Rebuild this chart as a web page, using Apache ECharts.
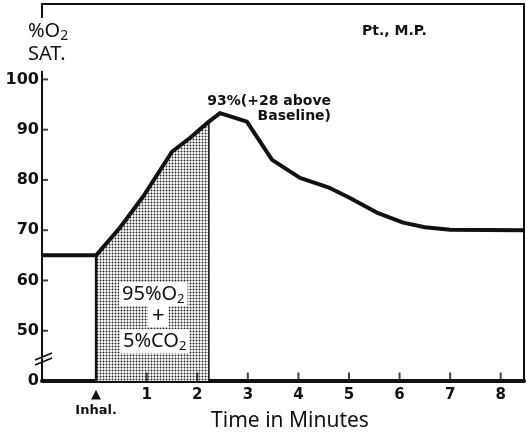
<!DOCTYPE html>
<html>
<head>
<meta charset="utf-8">
<script src="https://cdn.jsdelivr.net/npm/echarts@6/dist/echarts.min.js"></script>
<style>
  html, body { margin: 0; padding: 0; background: #fff; }
  #chart { width: 527px; height: 436px; }
</style>
</head>
<body>
<div id="chart"></div>
<script>
// time in minutes (0 = start of inhalation), % O2 saturation
const time = [-1.07, 0, 0.47, 0.93, 1.5, 1.86, 2.23, 2.45, 2.98, 3.48, 4.03, 4.62, 5.0, 5.55, 6.07, 6.5, 7.0, 8.46];
const sat = [65, 65, 70.5, 76.7, 85.6, 88.4, 91.6, 93.3, 91.6, 84.0, 80.4, 78.4, 76.5, 73.5, 71.5, 70.6, 70.1, 70];
const shadeEnd = 2.23; // end of gas inhalation
const xTicks = [0, 1, 2, 3, 4, 5, 6, 7, 8];
const yTicks = [40, 50, 60, 70, 80, 90, 100];
const axisZero = 40; // broken axis: "0" is drawn where 40 would be
const yTop = 115;

const FONT = "'Noto Sans', 'DejaVu Sans', sans-serif";
const BOLD = "'DejaVu Sans', sans-serif";
const ink = "#111";

// dotted stipple for the shaded inhalation region
let dots = document.createElement("canvas");
dots.width = 3;
dots.height = 3;
let dctx = dots.getContext("2d");
dctx.fillStyle = "#fff";
dctx.fillRect(0, 0, 3, 3);
dctx.fillStyle = "#222";
dctx.beginPath();
dctx.arc(1.5, 1.5, 0.95, 0, Math.PI * 2);
dctx.fill();

const curve = time.map((t, i) => [t, sat[i]]);
const shaded = curve.filter(p => p[0] >= 0 && p[0] <= shadeEnd);
const shadeTop = shaded[shaded.length - 1][1];

// inward tick marks, drawn as small rects at the tick values
const xTickMarks = xTicks.slice(1).map(t => [t, axisZero]);
const yTickMarks = yTicks.slice(1).map(v => [time[0], v]);

let chart = echarts.init(document.getElementById("chart"));
chart.setOption({
  backgroundColor: "#fff",
  animation: false,
  grid: {
    left: 42, right: 3, top: 4, bottom: 55,
    outerBoundsMode: "none",
    containLabel: false,
    show: true, borderColor: ink, borderWidth: 2
  },
  xAxis: {
    type: "value",
    min: time[0],
    max: time[time.length - 1],
    splitLine: { show: false },
    axisLine: { onZero: false, lineStyle: { color: ink, width: 4 } },
    axisTick: { show: false },
    axisLabel: {
      customValues: xTicks,
      margin: 7,
      color: ink,
      fontFamily: BOLD,
      fontWeight: "bold",
      fontSize: 15,
      formatter: v => (v === 0 ? "{arr|▲}\n{t|Inhal.}" : String(v)),
      rich: {
        arr: { fontSize: 13, lineHeight: 14, color: ink, fontFamily: BOLD },
        t: { fontSize: 13, fontWeight: "bold", lineHeight: 18, color: ink, fontFamily: BOLD }
      }
    },
    name: "Time in Minutes",
    nameLocation: "middle",
    nameGap: 30,
    nameMoveOverlap: false,
    nameTextStyle: { color: ink, fontFamily: FONT, fontSize: 21, padding: [0, 0, 0, 14] }
  },
  yAxis: {
    type: "value",
    min: axisZero,
    max: yTop,
    splitLine: { show: false },
    axisLine: { onZero: false, lineStyle: { color: ink, width: 2 } },
    axisTick: { show: false },
    axisLabel: {
      customValues: yTicks,
      margin: 3,
      color: ink,
      fontFamily: BOLD,
      fontWeight: "bold",
      fontSize: 16,
      formatter: v => (v === axisZero ? "0" : String(v))
    }
  },
  series: [
    {
      type: "line",
      data: shaded,
      symbol: "none",
      lineStyle: { width: 0 },
      areaStyle: { color: { image: dots, repeat: "repeat" }, opacity: 1, origin: "start" },
      z: 1
    },
    {
      type: "line",
      data: [[0, axisZero], [0, sat[1]]],
      symbol: "none",
      lineStyle: { color: ink, width: 2.5 },
      z: 2
    },
    {
      type: "line",
      data: [[shadeEnd, axisZero], [shadeEnd, shadeTop]],
      symbol: "none",
      lineStyle: { color: ink, width: 1.5 },
      z: 2
    },
    {
      type: "line",
      data: curve,
      symbol: "none",
      lineStyle: { color: ink, width: 4, join: "round" },
      z: 3
    },
    {
      type: "scatter",
      data: xTickMarks,
      symbol: "rect",
      symbolSize: [2, 9],
      symbolOffset: [0, -4],
      itemStyle: { color: ink },
      silent: true,
      clip: false,
      z: 4
    },
    {
      type: "scatter",
      data: yTickMarks,
      symbol: "rect",
      symbolSize: [6, 2],
      symbolOffset: [3, 0],
      itemStyle: { color: ink },
      silent: true,
      clip: false,
      z: 4
    }
  ],
  graphic: [
    {
      type: "text", left: 26, top: 18, z: 100,
      style: {
        text: "{a|%O}{s|2}\n{a|SAT.}",
        backgroundColor: "#fff",
        padding: [2, 4, 5, 2],
        rich: {
          a: { fontSize: 20, fontFamily: FONT, fill: ink, lineHeight: 23 },
          s: { fontSize: 14, fontFamily: FONT, fill: ink, padding: [9, 0, 0, 0] }
        }
      }
    },
    {
      type: "text", left: 362, top: 24, z: 100,
      style: { text: "Pt., M.P.", fontSize: 14, fontWeight: "bold", fontFamily: BOLD, fill: ink }
    },
    {
      type: "text", x: 331, y: 94, z: 100,
      style: {
        text: "93%(+28 above\nBaseline)",
        align: "right",
        fontSize: 14, fontWeight: "bold", fontFamily: BOLD, fill: ink, lineHeight: 15
      }
    },
    {
      type: "text", left: 119, top: 282, z: 100,
      style: {
        text: "{a|95%O}{s|2}",
        backgroundColor: "#fff", padding: [0, 3, 0, 3],
        rich: {
          a: { fontSize: 20, fontFamily: FONT, fill: ink, lineHeight: 24 },
          s: { fontSize: 13, fontFamily: FONT, fill: ink, padding: [10, 0, 0, 0] }
        }
      }
    },
    {
      type: "text", left: 148, top: 305, z: 100,
      style: {
        text: "+", fontSize: 22, fontFamily: FONT, fill: ink,
        backgroundColor: "#fff", padding: [0, 4, 0, 4], lineHeight: 22
      }
    },
    {
      type: "text", left: 120, top: 329, z: 100,
      style: {
        text: "{a|5%CO}{s|2}",
        backgroundColor: "#fff", padding: [0, 3, 0, 3],
        rich: {
          a: { fontSize: 20, fontFamily: FONT, fill: ink, lineHeight: 24 },
          s: { fontSize: 13, fontFamily: FONT, fill: ink, padding: [10, 0, 0, 0] }
        }
      }
    },
    // axis break marks
    {
      type: "group", z: 100,
      children: [
        { type: "line", shape: { x1: 35, y1: 360, x2: 52, y2: 353 }, style: { stroke: ink, lineWidth: 1.8 } },
        { type: "line", shape: { x1: 35, y1: 365, x2: 52, y2: 358 }, style: { stroke: ink, lineWidth: 1.8 } }
      ]
    }
  ]
});
</script>
</body>
</html>
